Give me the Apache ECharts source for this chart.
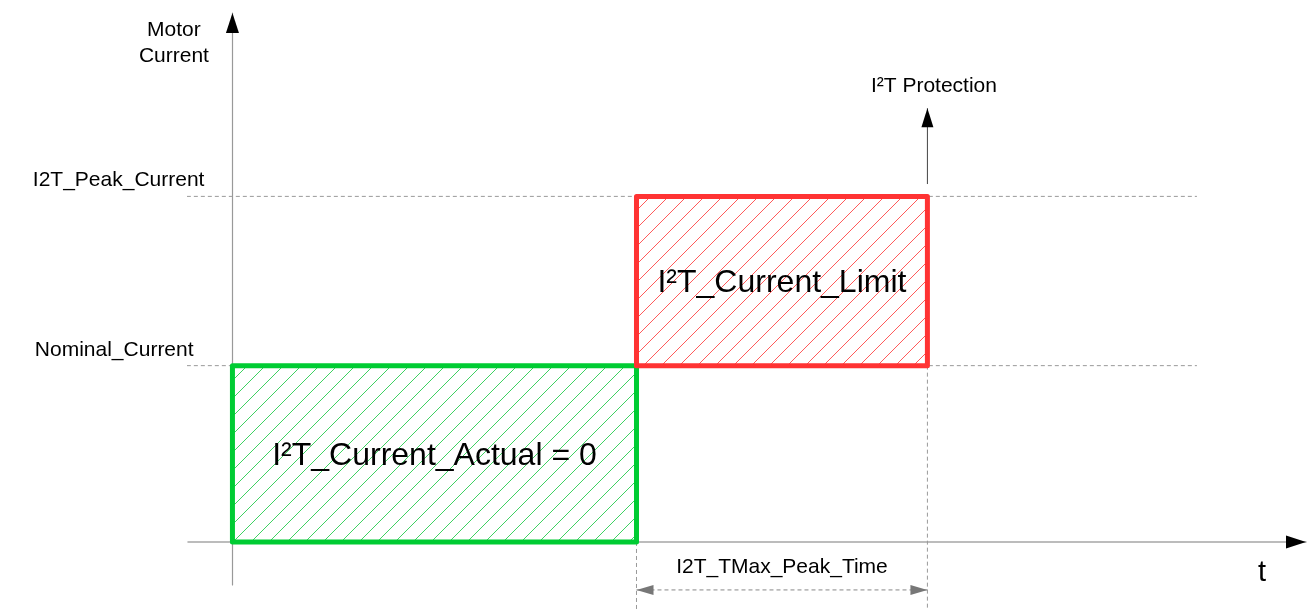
<!DOCTYPE html>
<html>
<head>
<meta charset="utf-8">
<title>I2T protection</title>
<script src="https://cdn.jsdelivr.net/npm/echarts@6/dist/echarts.min.js"></script>
<style>
  html, body { margin: 0; padding: 0; background: #fff; }
  #chart { width: 1308px; height: 610px; }
</style>
</head>
<body>
<div id="chart"></div>
<script>
// time in arbitrary units, current in units of the nominal current
const phaseNames = ['I²T_Current_Actual = 0', 'I²T_Current_Limit'];
const phaseStart = [0, 1];
const phaseEnd = [1, 1.72];
const phaseBase = [0, 1];
const phaseCurrent = [1, 1.96];

const levelNames = ['Nominal_Current', 'I2T_Peak_Current'];
const levelValues = [1, 1.96];

const tripTime = 1.72;
const protectionArrow = [tripTime, 2.03, tripTime, 2.46];
const peakTimeArrow = [1, -0.272, tripTime, -0.272];

// axis extents and how far the dashed guides run
const xMin = -0.11, xMax = 2.657;
const yMin = -0.244, yMax = 3.0;
const guideFrom = -0.546, guideTo = 2.387;
const markerBottom = -0.385;

const FONT = "'Liberation Sans', Arial, sans-serif";

const phaseStyles = [
  { border: '#00cc33', hatch: '#3fd162', step: 18 },
  { border: '#ff3333', hatch: '#ff5a5a', step: 18 }
];

// crisp "/" hatch drawn pixel by pixel, so it lines up with the screen grid
function hatchImage(x0, y0, x1, y1, step, color) {
  const X0 = Math.round(x0), Y0 = Math.round(y0);
  const w = Math.max(1, Math.round(x1) - X0), h = Math.max(1, Math.round(y1) - Y0);
  const c = document.createElement('canvas');
  c.width = w; c.height = h;
  const ctx = c.getContext('2d');
  ctx.fillStyle = color;
  for (let j = 0; j < h; j++) {
    const first = ((-(X0 + Y0 + j)) % step + step) % step;
    for (let i = first; i < w; i += step) ctx.fillRect(i, j, 1, 1);
  }
  return { type: 'image', style: { image: c, x: X0, y: Y0, width: w, height: h } };
}

function arrowSeries(name, segments, st) {
  return {
    type: 'custom',
    name: name,
    silent: true,
    z: st.z || 5,
    data: segments,
    renderItem: function (params, api) {
      const p0 = api.coord([api.value(0), api.value(1)]);
      const p1 = api.coord([api.value(2), api.value(3)]);
      const dx = p1[0] - p0[0], dy = p1[1] - p0[1];
      const len = Math.sqrt(dx * dx + dy * dy) || 1;
      const ux = dx / len, uy = dy / len;
      const children = [];
      if (st.lineWidth) {
        children.push({
          type: 'line',
          shape: { x1: p0[0], y1: p0[1], x2: p1[0], y2: p1[1] },
          style: { stroke: st.lineColor, lineWidth: st.lineWidth, lineDash: st.lineDash || null }
        });
      }
      const head = function (tip, vx, vy) {
        const bx = tip[0] - vx * st.headLen, by = tip[1] - vy * st.headLen, w = st.headWidth / 2;
        return {
          type: 'polygon',
          shape: { points: [[tip[0], tip[1]], [bx - vy * w, by + vx * w], [bx + vy * w, by - vx * w]] },
          style: { fill: st.headColor }
        };
      };
      children.push(head(p1, ux, uy));
      if (st.both) children.push(head(p0, -ux, -uy));
      return { type: 'group', children: children };
    }
  };
}

const dashed = { color: '#999', width: 1, type: [4, 3] };

const chart = echarts.init(document.getElementById('chart'));

const option = {
  backgroundColor: '#fff',
  animation: false,
  grid: { left: 188, right: 2, top: 13, bottom: 25 },
  xAxis: {
    type: 'value', min: xMin, max: xMax,
    axisLine: { show: true, onZero: true, lineStyle: { color: '#a6a6a6', width: 1.5 } },
    axisTick: { show: false }, axisLabel: { show: false }, splitLine: { show: false }
  },
  yAxis: {
    type: 'value', min: yMin, max: yMax,
    axisLine: { show: true, onZero: true, lineStyle: { color: '#999', width: 1.2 } },
    axisTick: { show: false }, axisLabel: { show: false }, splitLine: { show: false }
  },
  series: [
    // dashed current levels
    ...levelValues.map(function (v, i) {
      return {
        type: 'line', name: levelNames[i], silent: true, clip: false, z: 1,
        showSymbol: false, symbol: 'none',
        lineStyle: dashed,
        data: [[guideFrom, v], [guideTo, v]]
      };
    }),
    // dashed time markers
    {
      type: 'line', name: 'peakStart', silent: true, clip: false, z: 1, symbol: 'none',
      lineStyle: dashed, data: [[phaseStart[1], 0], [phaseStart[1], markerBottom]]
    },
    {
      type: 'line', name: 'trip', silent: true, clip: false, z: 1, symbol: 'none',
      lineStyle: dashed, data: [[tripTime, levelValues[0]], [tripTime, markerBottom]]
    },
    // hatched phases
    {
      type: 'custom', name: 'phases', silent: true, z: 3,
      data: phaseStart.map(function (s, i) { return [s, phaseEnd[i], phaseBase[i], phaseCurrent[i]]; }),
      renderItem: function (params, api) {
        const a = api.coord([api.value(0), api.value(2)]);
        const b = api.coord([api.value(1), api.value(3)]);
        const st = phaseStyles[params.dataIndex];
        const x0 = a[0], x1 = b[0], y0 = b[1], y1 = a[1];
        return {
          type: 'group',
          children: [
            hatchImage(x0, y0, x1, y1, st.step, st.hatch),
            {
              type: 'rect',
              shape: { x: x0, y: y0, width: x1 - x0, height: y1 - y0 },
              style: { fill: 'transparent', stroke: st.border, lineWidth: 5, lineJoin: 'round' },
              textContent: {
                style: { text: phaseNames[params.dataIndex], fontSize: 32, fontFamily: FONT, fill: '#000' }
              },
              textConfig: { position: 'inside', offset: [0, 2] }
            }
          ]
        };
      }
    },
    // arrow heads and arrows
    arrowSeries('axisHeads', [[0, 0, xMax, 0], [0, 0, 0, yMax]],
      { headLen: 20, headWidth: 13, headColor: '#000', z: 6 }),
    arrowSeries('protection', [protectionArrow],
      { lineWidth: 1, lineColor: '#444', headLen: 19, headWidth: 12, headColor: '#000' }),
    arrowSeries('peakTime', [peakTimeArrow],
      { lineWidth: 1, lineColor: '#888', lineDash: [4, 3], headLen: 17, headWidth: 10, headColor: '#777', both: true })
  ]
};

chart.setOption(option);

// free text, anchored to data points
const px = function (p) { return chart.convertToPixel({ gridIndex: 0 }, p); };
const notes = [
  { at: [0, yMax], dx: -58.5, dy: 30, text: 'Motor\nCurrent', size: 21, align: 'center' },
  { at: [xMax, 0], dx: -44, dy: 31, text: 't', size: 29, align: 'center' },
  { at: [guideFrom, levelValues[1]], dx: 21, dy: -16.5, text: levelNames[1], size: 21, align: 'left' },
  { at: [guideFrom, levelValues[0]], dx: 23, dy: -15.5, text: levelNames[0], size: 21, align: 'left' },
  { at: [protectionArrow[2], protectionArrow[3]], dx: 6.5, dy: -22, text: 'I²T Protection', size: 21, align: 'center' },
  { at: [(peakTimeArrow[0] + peakTimeArrow[2]) / 2, peakTimeArrow[1]], dx: 0, dy: -22.5, text: 'I2T_TMax_Peak_Time', size: 21, align: 'center' }
];

chart.setOption({
  graphic: notes.map(function (n) {
    const p = px(n.at);
    return {
      type: 'text', silent: true, z: 10,
      x: p[0] + n.dx, y: p[1] + n.dy,
      style: {
        text: n.text, fill: '#000', fontSize: n.size, fontFamily: FONT, lineHeight: 26,
        align: n.align, textAlign: n.align, verticalAlign: 'middle', textVerticalAlign: 'middle'
      }
    };
  })
});
</script>
</body>
</html>
